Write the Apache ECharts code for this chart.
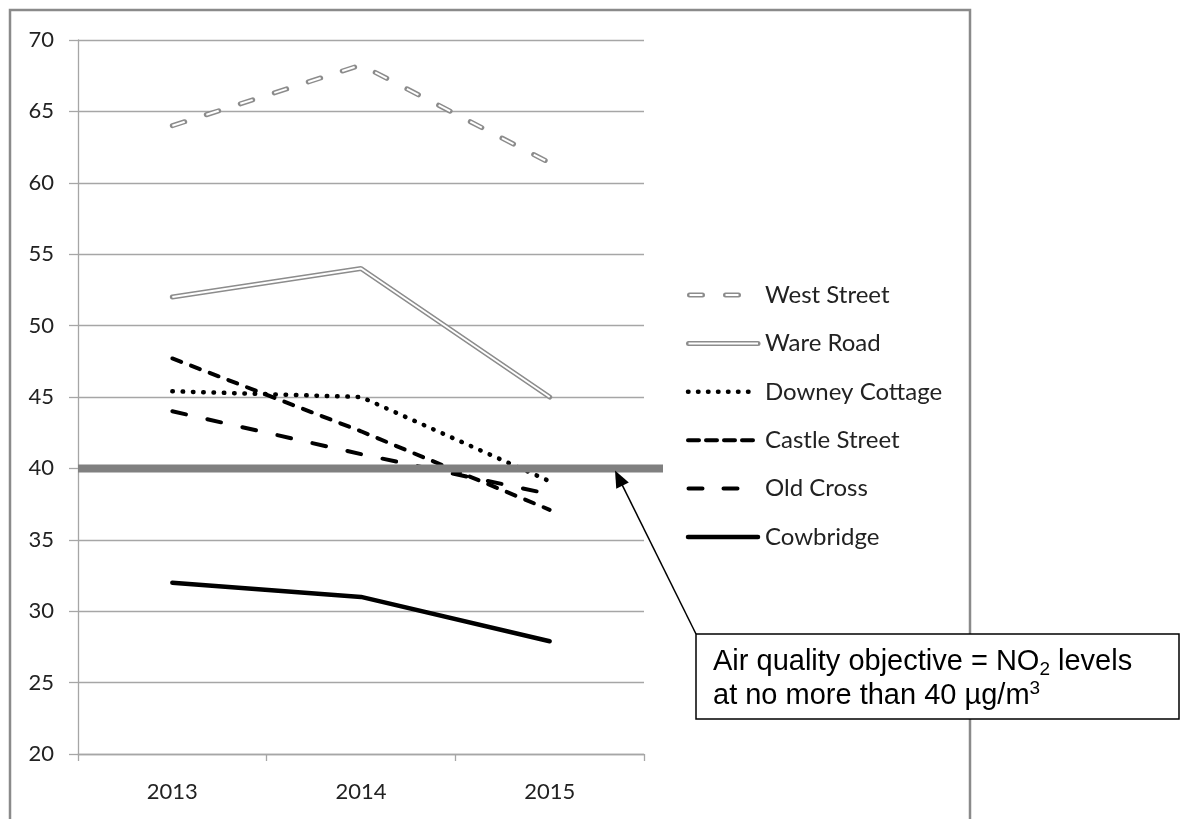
<!DOCTYPE html>
<html><head><meta charset="utf-8">
<script src="https://cdn.jsdelivr.net/npm/echarts@6/dist/echarts.min.js"></script>
<style>html,body{margin:0;padding:0;background:#fff;}#chart{width:1188px;height:819px;}</style>
</head><body><div id="chart"></div>
<script>
// ---- data ----
const years = ['2013', '2014', '2015'];
const westStreet = [64.0, 68.25, 61.4];
const wareRoad = [52.0, 54.0, 45.0];
const downeyCottage = [45.4, 45.0, 39.1];
const castleStreet = [47.7, 42.6, 37.1];
const oldCross = [44.0, 41.0, 38.2];
const cowbridge = [32.0, 31.0, 27.9];
const yMin = 20, yMax = 70, yStep = 5;
const objectiveValue = 40;
const legendNames = ['West Street', 'Ware Road', 'Downey Cottage', 'Castle Street', 'Old Cross', 'Cowbridge'];
const noteLine1 = ['Air quality objective = NO', '2', ' levels'];
const noteLine2 = ['at no more than 40 \u00B5g/m', '3'];

// ---- styles ----
const FONT = 'Lato';
const GRID_COLOR = '#a6a6a6';
const LABEL_COLOR = '#222';
const GRAY_LINE = '#8c8c8c';
const styles = {
  'West Street':    {outer: {color: GRAY_LINE, width: 5, type: [13, 22.7], cap: 'round'}, inner: {color: '#fff', width: 2, type: [13, 22.7], cap: 'butt'}},
  'Ware Road':      {outer: {color: GRAY_LINE, width: 5, type: 'solid', cap: 'round'}, inner: {color: '#fff', width: 2, type: 'solid', cap: 'butt'}},
  'Downey Cottage': {outer: {color: '#000', width: 4.5, type: [0.5, 9.8], cap: 'round'}},
  'Castle Street':  {outer: {color: '#000', width: 4, type: [9.5, 10.5], cap: 'round'}},
  'Old Cross':      {outer: {color: '#000', width: 4, type: [14, 21.9], cap: 'round'}},
  'Cowbridge':      {outer: {color: '#000', width: 4.5, type: 'solid', cap: 'round'}}
};
const values = {
  'West Street': westStreet, 'Ware Road': wareRoad, 'Downey Cottage': downeyCottage,
  'Castle Street': castleStreet, 'Old Cross': oldCross, 'Cowbridge': cowbridge
};

const series = [];
legendNames.forEach(function (name) {
  const st = styles[name];
  series.push({
    name: name, type: 'line', data: values[name], symbol: 'none', z: 3,
    lineStyle: st.outer, emphasis: {disabled: true}
  });
  if (st.inner) {
    series.push({
      name: name + ' (inner)', type: 'line', data: values[name], symbol: 'none', z: 4,
      lineStyle: st.inner, emphasis: {disabled: true}
    });
  }
});

const chart = echarts.init(document.getElementById('chart'));
chart.setOption({
  animation: false,
  backgroundColor: '#fff',
  grid: {left: 78, right: 544, top: 40, bottom: 65},
  xAxis: {
    type: 'category', data: years, boundaryGap: true,
    axisLine: {show: true, lineStyle: {color: GRID_COLOR, width: 1.3}},
    axisTick: {show: true, length: 7, lineStyle: {color: GRID_COLOR, width: 1.3}},
    axisLabel: {fontFamily: FONT, fontSize: 22, color: LABEL_COLOR, margin: 27},
    splitLine: {show: false}
  },
  yAxis: {
    type: 'value', min: yMin, max: yMax, interval: yStep,
    axisLine: {show: true, lineStyle: {color: GRID_COLOR, width: 1.3}},
    axisTick: {show: true, length: 9, lineStyle: {color: GRID_COLOR, width: 1.3}},
    axisLabel: {fontFamily: FONT, fontSize: 22, color: LABEL_COLOR, margin: 24},
    splitLine: {show: true, lineStyle: {color: GRID_COLOR, width: 1.3}}
  },
  series: series
});

// ---- annotations, frame and legend ----
const yObj = chart.convertToPixel({yAxisIndex: 0}, objectiveValue);
const gridLeft = 78, gridRight = 1188 - 544;
const graphics = [];

// outer chart frame
graphics.push({type: 'rect', z: 1, shape: {x: 10, y: 10, width: 960, height: 840},
  style: {fill: 'none', stroke: '#8a8a8a', lineWidth: 2.5}});

// objective line
graphics.push({type: 'line', z: 50, shape: {x1: gridLeft, y1: yObj, x2: gridRight + 19, y2: yObj},
  style: {stroke: '#808080', lineWidth: 8}});

// note box
const box = {x: 696, y: 634, w: 483, h: 85};
const NOTE_FONT = 'Liberation Sans, Arial';
graphics.push({type: 'rect', z: 60, shape: {x: box.x, y: box.y, width: box.w, height: box.h},
  style: {fill: '#fff', stroke: '#000', lineWidth: 1.5}});
graphics.push({type: 'text', z: 61, x: 713, y: 645, style: {
  text: noteLine1[0] + '{sub|' + noteLine1[1] + '}' + noteLine1[2] + '\n' + noteLine2[0] + '{sup|' + noteLine2[1] + '}',
  fontFamily: NOTE_FONT, fontSize: 29, lineHeight: 34, fill: '#000',
  rich: {
    sub: {fontFamily: NOTE_FONT, fontSize: 19, lineHeight: 10, verticalAlign: 'bottom', fill: '#000'},
    sup: {fontFamily: NOTE_FONT, fontSize: 19, lineHeight: 26, verticalAlign: 'top', fill: '#000'}
  }
}});

// arrow from box corner to objective line
const tip = [615, yObj + 2];
const tail = [box.x, box.y];
const dx = tail[0] - tip[0], dy = tail[1] - tip[1];
const len = Math.sqrt(dx * dx + dy * dy);
const ux = dx / len, uy = dy / len, px = -uy, py = ux;
const headL = 17, headW = 7;
const bc = [tip[0] + ux * headL, tip[1] + uy * headL];
graphics.push({type: 'line', z: 55, shape: {x1: tail[0], y1: tail[1], x2: bc[0] - ux * 2, y2: bc[1] - uy * 2},
  style: {stroke: '#000', lineWidth: 1.5}});
graphics.push({type: 'polygon', z: 56, shape: {points: [tip, [bc[0] + px * headW, bc[1] + py * headW], [bc[0] - px * headW, bc[1] - py * headW]]},
  style: {fill: '#000'}});

// legend
const legendX2 = 758, legendTextX = 765;
const legendY0 = 295, legendDY = 48.4;
const legendIcons = {
  'West Street':    [{x1: 689.5, stroke: GRAY_LINE, w: 5, dash: [13, 23], cap: 'round'}, {x1: 689.5, stroke: '#fff', w: 2, dash: [13, 23], cap: 'butt'}],
  'Ware Road':      [{x1: 688.5, stroke: GRAY_LINE, w: 5, dash: null, cap: 'round'}, {x1: 688.5, stroke: '#fff', w: 2, dash: null, cap: 'butt'}],
  'Downey Cottage': [{x1: 688, stroke: '#000', w: 4.5, dash: [0.5, 9.5], cap: 'round'}],
  'Castle Street':  [{x1: 688, stroke: '#000', w: 4, dash: [11, 7], cap: 'round'}],
  'Old Cross':      [{x1: 688.5, stroke: '#000', w: 4, dash: [14, 21], cap: 'round'}],
  'Cowbridge':      [{x1: 688, stroke: '#000', w: 4.5, dash: null, cap: 'round'}]
};
legendNames.forEach(function (name, i) {
  const y = legendY0 + i * legendDY;
  legendIcons[name].forEach(function (ic) {
    graphics.push({type: 'line', z: 20, shape: {x1: ic.x1, y1: y, x2: legendX2, y2: y},
      style: {stroke: ic.stroke, lineWidth: ic.w, lineDash: ic.dash, lineCap: ic.cap}});
  });
  graphics.push({type: 'text', z: 20, x: legendTextX, y: y, style: {
    text: name, fontFamily: FONT, fontSize: 24, fill: LABEL_COLOR, verticalAlign: 'middle'}});
});

chart.setOption({graphic: graphics});
</script>
</body></html>
